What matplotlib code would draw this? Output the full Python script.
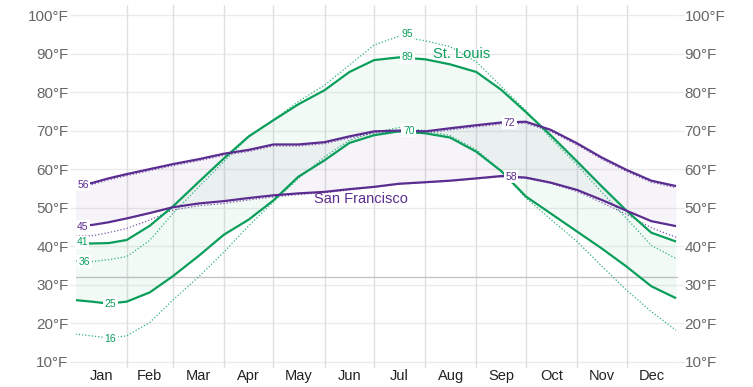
import matplotlib
matplotlib.use("Agg")
import matplotlib.pyplot as plt
import numpy as np

# ---- data (day of year, 0 = Jan 1) ----
days = [0, 10, 20, 31, 45, 59, 75, 90, 105, 120, 135, 151, 166, 181, 196,
        212, 227, 243, 258, 273, 288, 304, 319, 334, 349, 364]

stl_high = [40.8, 40.7, 40.8, 41.6, 45.3, 50.3, 56.8, 62.8, 68.5, 72.7, 76.8, 80.5, 85.2,
            88.3, 89.0, 88.5, 87.2, 85.2, 80.6, 74.8, 68.8, 62.0, 55.5, 49.2, 43.5, 41.2]
stl_high_feel = [36.2, 36.0, 36.5, 37.3, 41.5, 48.5, 55.5, 62.0, 68.3, 72.8, 77.5, 81.8, 87.0,
                 92.2, 94.5, 93.3, 91.8, 87.8, 81.5, 75.2, 68.0, 61.1, 54.0, 47.2, 40.2, 36.8]
stl_low = [26.0, 25.6, 25.1, 25.6, 28.0, 32.2, 37.6, 43.0, 46.9, 51.9, 58.0, 62.3, 66.8,
           68.8, 69.8, 69.3, 68.2, 64.5, 59.5, 52.9, 48.5, 43.8, 39.4, 34.7, 29.6, 26.5]
stl_low_feel = [17.2, 16.7, 16.2, 16.7, 20.2, 26.0, 32.2, 38.5, 45.3, 51.5, 57.5, 63.2, 67.5,
                69.5, 70.8, 70.0, 68.7, 65.0, 59.5, 52.5, 47.0, 41.2, 34.8, 28.6, 23.0, 18.2]

sf_high = [56.0, 56.4, 57.6, 58.7, 60.0, 61.3, 62.6, 64.0, 65.0, 66.4, 66.4, 67.0, 68.5,
           69.8, 70.0, 69.8, 70.6, 71.4, 72.1, 72.3, 70.2, 66.7, 63.0, 59.8, 57.0, 55.6]
sf_high_feel = [55.6, 56.0, 57.2, 58.3, 59.6, 60.9, 62.2, 63.6, 64.6, 66.0, 66.0, 66.6, 68.1,
                69.4, 69.6, 69.4, 70.2, 71.0, 71.7, 71.9, 69.8, 66.3, 62.6, 59.4, 56.6, 55.2]
sf_low = [45.4, 45.5, 46.2, 47.2, 48.6, 50.1, 51.1, 51.7, 52.5, 53.2, 53.7, 54.1, 54.8,
          55.4, 56.2, 56.6, 57.0, 57.6, 58.2, 57.8, 56.5, 54.6, 52.0, 49.2, 46.5, 45.2]
sf_low_feel = [42.6, 42.7, 43.5, 44.6, 46.8, 49.4, 50.5, 51.1, 52.0, 52.8, 53.4, 53.9, 54.6,
               55.3, 56.1, 56.5, 56.9, 57.5, 58.0, 57.6, 56.3, 54.2, 51.3, 48.3, 44.8, 42.3]

# value labels: (text, day, temp, series)
value_labels = [("56", 4.5, 56, "sf"), ("45", 4.5, 45, "sf"), ("41", 4.0, 41, "stl"),
                ("36", 5.5, 36, "stl"), ("25", 21, 25, "stl"), ("16", 21, 16, "stl"),
                ("95", 201, 95, "stl"), ("89", 201, 89, "stl"), ("70", 202, 70, "stl"),
                ("72", 263, 72, "sf"), ("58", 264, 58, "sf")]

month_names = ["Jan", "Feb", "Mar", "Apr", "May", "Jun", "Jul", "Aug", "Sep", "Oct", "Nov", "Dec"]
month_starts = [0, 31, 59, 90, 120, 151, 181, 212, 243, 273, 304, 334, 365]
yticks = [10, 20, 30, 40, 50, 60, 70, 80, 90, 100]

# ---- style ----
GREEN = "#0a9e5b"
GREEN_DOT = "#2fb37a"
PURPLE = "#5b2d90"
PURPLE_DOT = "#7a55ad"
plt.rcParams["font.family"] = ["Liberation Sans", "DejaVu Sans"]

fig = plt.figure(figsize=(7.53, 3.87), dpi=100)
ax = fig.add_axes([75.5 / 753, (387 - 368) / 387, 602.2 / 753, 363 / 387])
ax.set_xlim(0, 365)
ax.set_ylim(100 - (368 - 15) / 3.853, 100 + 10 / 3.853)
for s in ax.spines.values():
    s.set_visible(False)

# grid
for t in yticks:
    ax.axhline(t, color="#ebebeb", lw=1.0, zorder=0)
for m in month_starts[1:-1]:
    ax.axvline(m, color="#e0e0e0", lw=1.0, zorder=0)
ax.axhline(32, color="#c4c4c4", lw=1.0, zorder=1)

d = np.array(days)
# fills
ax.fill_between(d, stl_low, stl_high, color="#0a9e5b", alpha=0.05, lw=0, zorder=1)
ax.fill_between(d, sf_low, sf_high, color="#5b2d90", alpha=0.05, lw=0, zorder=1)

# dotted (perceived) lines
for ser, c in [(stl_high_feel, GREEN_DOT), (stl_low_feel, GREEN_DOT),
               (sf_high_feel, PURPLE_DOT), (sf_low_feel, PURPLE_DOT)]:
    ax.plot(d, ser, color=c, lw=0.9, ls=(0, (1, 1.6)), zorder=2)
# solid lines
for ser, c in [(stl_high, GREEN), (stl_low, GREEN), (sf_high, PURPLE), (sf_low, PURPLE)]:
    ax.plot(d, ser, color=c, lw=1.6, zorder=3, solid_capstyle="butt")

# value labels
for txt, dx, ty, s in value_labels:
    c = GREEN if s == "stl" else PURPLE
    ax.text(dx, ty, txt, color=c, fontsize=7.5, ha="center", va="center", zorder=5,
            bbox=dict(boxstyle="square,pad=0.15", fc="white", ec="none"))

ax.text(234, 89.8, "St. Louis", color=GREEN, fontsize=10.5, ha="center", va="center", zorder=6)
ax.text(173, 52.2, "San Francisco", color=PURPLE, fontsize=10.5, ha="center", va="center", zorder=6)

# ticks
ax.set_yticks(yticks)
ax.set_yticklabels([f"{t}°F" for t in yticks])
ax.tick_params(axis="y", left=True, right=True, labelleft=True, labelright=True,
               length=4, width=1, color="#ebebeb", labelsize=11, labelcolor="#666666", pad=1)
mids = [(month_starts[i] + month_starts[i + 1]) / 2 for i in range(12)]
ax.set_xticks(mids)
ax.set_xticklabels(month_names)
ax.tick_params(axis="x", length=0, labelsize=10.5, labelcolor="#222222", pad=1)

fig.savefig("out.png", dpi=100)
